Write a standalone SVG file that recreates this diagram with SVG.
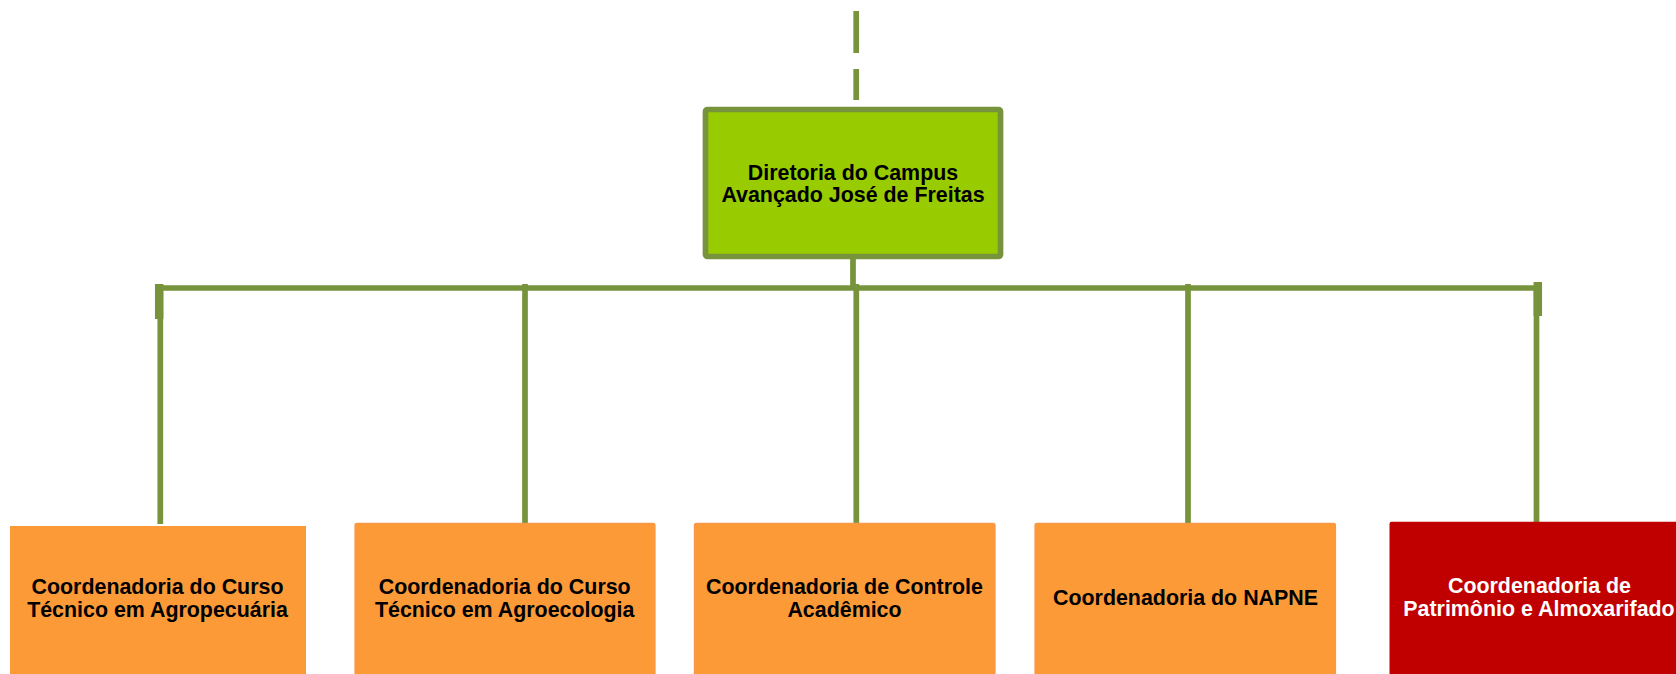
<svg xmlns="http://www.w3.org/2000/svg" width="1676" height="674" viewBox="0 0 1676 674">
<style>
.ln{stroke:#77933C;stroke-width:5.7;fill:none}
.tk{stroke:#77933C;stroke-width:8.5;fill:none}
.org{fill:#FD9A38}
.org2{fill:#FD9A38;stroke:#F8974A;stroke-width:1.2}
.red{fill:#C00000}
.t{font-family:"Liberation Sans",Arial,sans-serif;font-weight:bold;font-size:21.4px;text-anchor:middle;fill:#000}
.tw{fill:#FFFFFF}
</style>
<rect width="1676" height="674" fill="#FFFFFF"/>
<g id="connectors">
<line class="ln" x1="856.2" y1="11" x2="856.2" y2="53"/>
<line class="ln" x1="856.2" y1="69" x2="856.2" y2="100"/>
<line class="ln" x1="853" y1="259" x2="853" y2="288"/>
<line class="ln" x1="157" y1="288" x2="1537" y2="288"/>
<line class="tk" x1="159.2" y1="284" x2="159.2" y2="319"/>
<line class="tk" x1="1537.8" y1="282" x2="1537.8" y2="316"/>
<line class="ln" x1="160.3" y1="286" x2="160.3" y2="524"/>
<line class="ln" x1="525" y1="284" x2="525" y2="523"/>
<line class="ln" x1="856.3" y1="284" x2="856.3" y2="523"/>
<line class="ln" x1="1188" y1="284" x2="1188" y2="523"/>
<line class="ln" x1="1536.5" y1="286" x2="1536.5" y2="522"/>
</g>
<g id="n0">
<rect x="705.5" y="109.5" width="295" height="147" rx="2" fill="#99CC00" stroke="#77933C" stroke-width="5.7"/>
<text class="t" x="853" y="179.5">Diretoria do Campus</text>
<text class="t" x="853" y="202">Avançado José de Freitas</text>
</g>
<g id="n1">
<rect class="org" x="10" y="526" width="296" height="160"/>
<text class="t" x="157.5" y="594.3">Coordenadoria do Curso</text>
<text class="t" x="157.5" y="617.3">Técnico em Agropecuária</text>
</g>
<g id="n2">
<rect class="org2" x="355" y="523.3" width="300" height="160" rx="2"/>
<text class="t" x="504.7" y="594.3">Coordenadoria do Curso</text>
<text class="t" x="504.7" y="617.3">Técnico em Agroecologia</text>
</g>
<g id="n3">
<rect class="org2" x="694.4" y="523.3" width="300.6" height="160" rx="2"/>
<text class="t" x="844.5" y="594.3">Coordenadoria de Controle</text>
<text class="t" x="844.5" y="617.3">Acadêmico</text>
</g>
<g id="n4">
<rect class="org2" x="1035" y="523.3" width="300.5" height="160" rx="2"/>
<text class="t" x="1185.5" y="605">Coordenadoria do NAPNE</text>
</g>
<g id="n5">
<rect class="red" x="1389.5" y="521.7" width="300" height="160" rx="2"/>
<text class="t tw" x="1539.5" y="593.3">Coordenadoria de</text>
<text class="t tw" x="1539" y="616.3">Patrimônio e Almoxarifado</text>
</g>
</svg>
